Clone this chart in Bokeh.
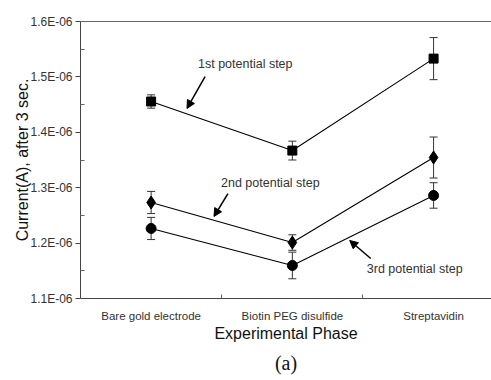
from bokeh.plotting import figure
from bokeh.models import (ColumnDataSource, Range1d, FixedTicker, CustomJSTickFormatter,
                          Whisker, TeeHead, Arrow, NormalHead, Label, LinearAxis, Title)
from bokeh.embed import file_html
from bokeh.resources import INLINE

categories = ["Bare gold electrode", "Biotin PEG disulfide", "Streptavidin"]
cat_pos = [0, 1, 2]

step1 = [1.4556e-06, 1.3670e-06, 1.5330e-06]
step1_err = [0.0120e-06, 0.0170e-06, 0.0380e-06]
step2 = [1.2733e-06, 1.2010e-06, 1.3545e-06]
step2_err = [0.0200e-06, 0.0140e-06, 0.0370e-06]
step3 = [1.2264e-06, 1.1596e-06, 1.2860e-06]
step3_err = [0.0200e-06, 0.0240e-06, 0.0230e-06]

y_ticks = [1.1e-06, 1.2e-06, 1.3e-06, 1.4e-06, 1.5e-06, 1.6e-06]
y_minor = [1.15e-06, 1.25e-06, 1.35e-06, 1.45e-06, 1.55e-06]

FONT = "Liberation Sans"

p = figure(width=491, height=380, output_backend="svg", toolbar_location=None,
           x_range=Range1d(-0.5, 2.41), y_range=Range1d(1.1e-06, 1.6e-06),
           min_border_left=80, min_border_right=0, min_border_top=21, min_border_bottom=82)
p.grid.visible = False
p.outline_line_color = None
p.background_fill_color = "white"
p.border_fill_color = "white"

# y axis
ya = p.yaxis[0]
ya.ticker = FixedTicker(ticks=y_ticks, minor_ticks=y_minor)
ya.formatter = CustomJSTickFormatter(code="""
const s = tick.toExponential(1).split('e');
const e = parseInt(s[1]);
return s[0] + 'E' + (e < 0 ? '-' : '+') + String(Math.abs(e)).padStart(2, '0');
""")
ya.major_tick_out = 5
ya.major_tick_in = 0
ya.minor_tick_in = 4
ya.minor_tick_out = 0
ya.axis_line_color = "#444444"
ya.major_tick_line_color = "#444444"
ya.minor_tick_line_color = "#666666"
ya.major_label_text_font = FONT
ya.major_label_text_font_size = "12px"
ya.major_label_text_color = "#333333"
ya.major_label_standoff = 3
ya.axis_label = "Current(A), after 3 sec."
ya.axis_label_text_font = FONT
ya.axis_label_text_font_style = "normal"
ya.axis_label_text_font_size = "16px"
ya.axis_label_text_color = "#111111"
ya.axis_label_standoff = -4

# x axis
xa = p.xaxis[0]
xa.ticker = FixedTicker(ticks=cat_pos, minor_ticks=[0.5, 1.5])
xa.major_label_overrides = {i: c for i, c in zip(cat_pos, categories)}
xa.major_tick_out = 0
xa.major_tick_in = 0
xa.minor_tick_in = 4
xa.minor_tick_out = 0
xa.axis_line_color = "#444444"
xa.minor_tick_line_color = "#666666"
xa.major_label_text_font = FONT
xa.major_label_text_font_size = "11.5px"
xa.major_label_text_color = "#333333"
xa.major_label_standoff = 11
xa.axis_label = "Experimental Phase"
xa.axis_label_text_font = FONT
xa.axis_label_text_font_style = "normal"
xa.axis_label_text_font_size = "16px"
xa.axis_label_text_color = "#111111"
xa.axis_label_standoff = 0

# top border line
top = LinearAxis(ticker=FixedTicker(ticks=[]), major_label_text_font_size="0px",
                 axis_line_color="#666666", major_tick_line_color=None, minor_tick_line_color=None)
p.add_layout(top, "above")

p.add_layout(Title(text="(a)", align="center", text_font="Liberation Serif",
                   text_font_size="20px", text_font_style="normal", text_color="#111111",
                   offset=4, standoff=10), "below")

series = [(step1, step1_err, "square", 9), (step2, step2_err, "diamond", 13),
          (step3, step3_err, "circle", 10)]
for vals, errs, marker, size in series:
    src = ColumnDataSource(dict(x=cat_pos, y=vals,
                                lo=[v - e for v, e in zip(vals, errs)],
                                hi=[v + e for v, e in zip(vals, errs)]))
    p.line("x", "y", source=src, line_color="black", line_width=1.1)
    w = Whisker(source=src, base="x", lower="lo", upper="hi", line_color="#333333", line_width=1,
                upper_head=TeeHead(size=8, line_color="#333333", line_width=1),
                lower_head=TeeHead(size=8, line_color="#333333", line_width=1))
    p.add_layout(w)
    p.scatter("x", "y", source=src, marker=marker, size=size, fill_color="black", line_color="black")

# annotations
ann_text = ["1st potential step", "2nd potential step", "3rd potential step"]
ann_tx = [0.332, 0.495, 1.527]
ann_ty = [1.524e-06, 1.309e-06, 1.154e-06]
arrow_x0 = [0.382, 0.544, 1.555]
arrow_y0 = [1.5007e-06, 1.2895e-06, 1.1722e-06]
arrow_x1 = [0.254, 0.445, 1.406]
arrow_y1 = [1.443e-06, 1.248e-06, 1.2047e-06]

for t, tx, ty in zip(ann_text, ann_tx, ann_ty):
    p.add_layout(Label(x=tx, y=ty, text=t, text_font=FONT, text_font_size="12.5px",
                       text_color="#333333", text_baseline="middle", text_align="left"))
for x0, y0, x1, y1 in zip(arrow_x0, arrow_y0, arrow_x1, arrow_y1):
    p.add_layout(Arrow(x_start=x0, y_start=y0, x_end=x1, y_end=y1, line_width=1.5,
                       line_color="black",
                       end=NormalHead(size=8, fill_color="black", line_color="black")))

open("out.html", "w").write(file_html(p, INLINE))
